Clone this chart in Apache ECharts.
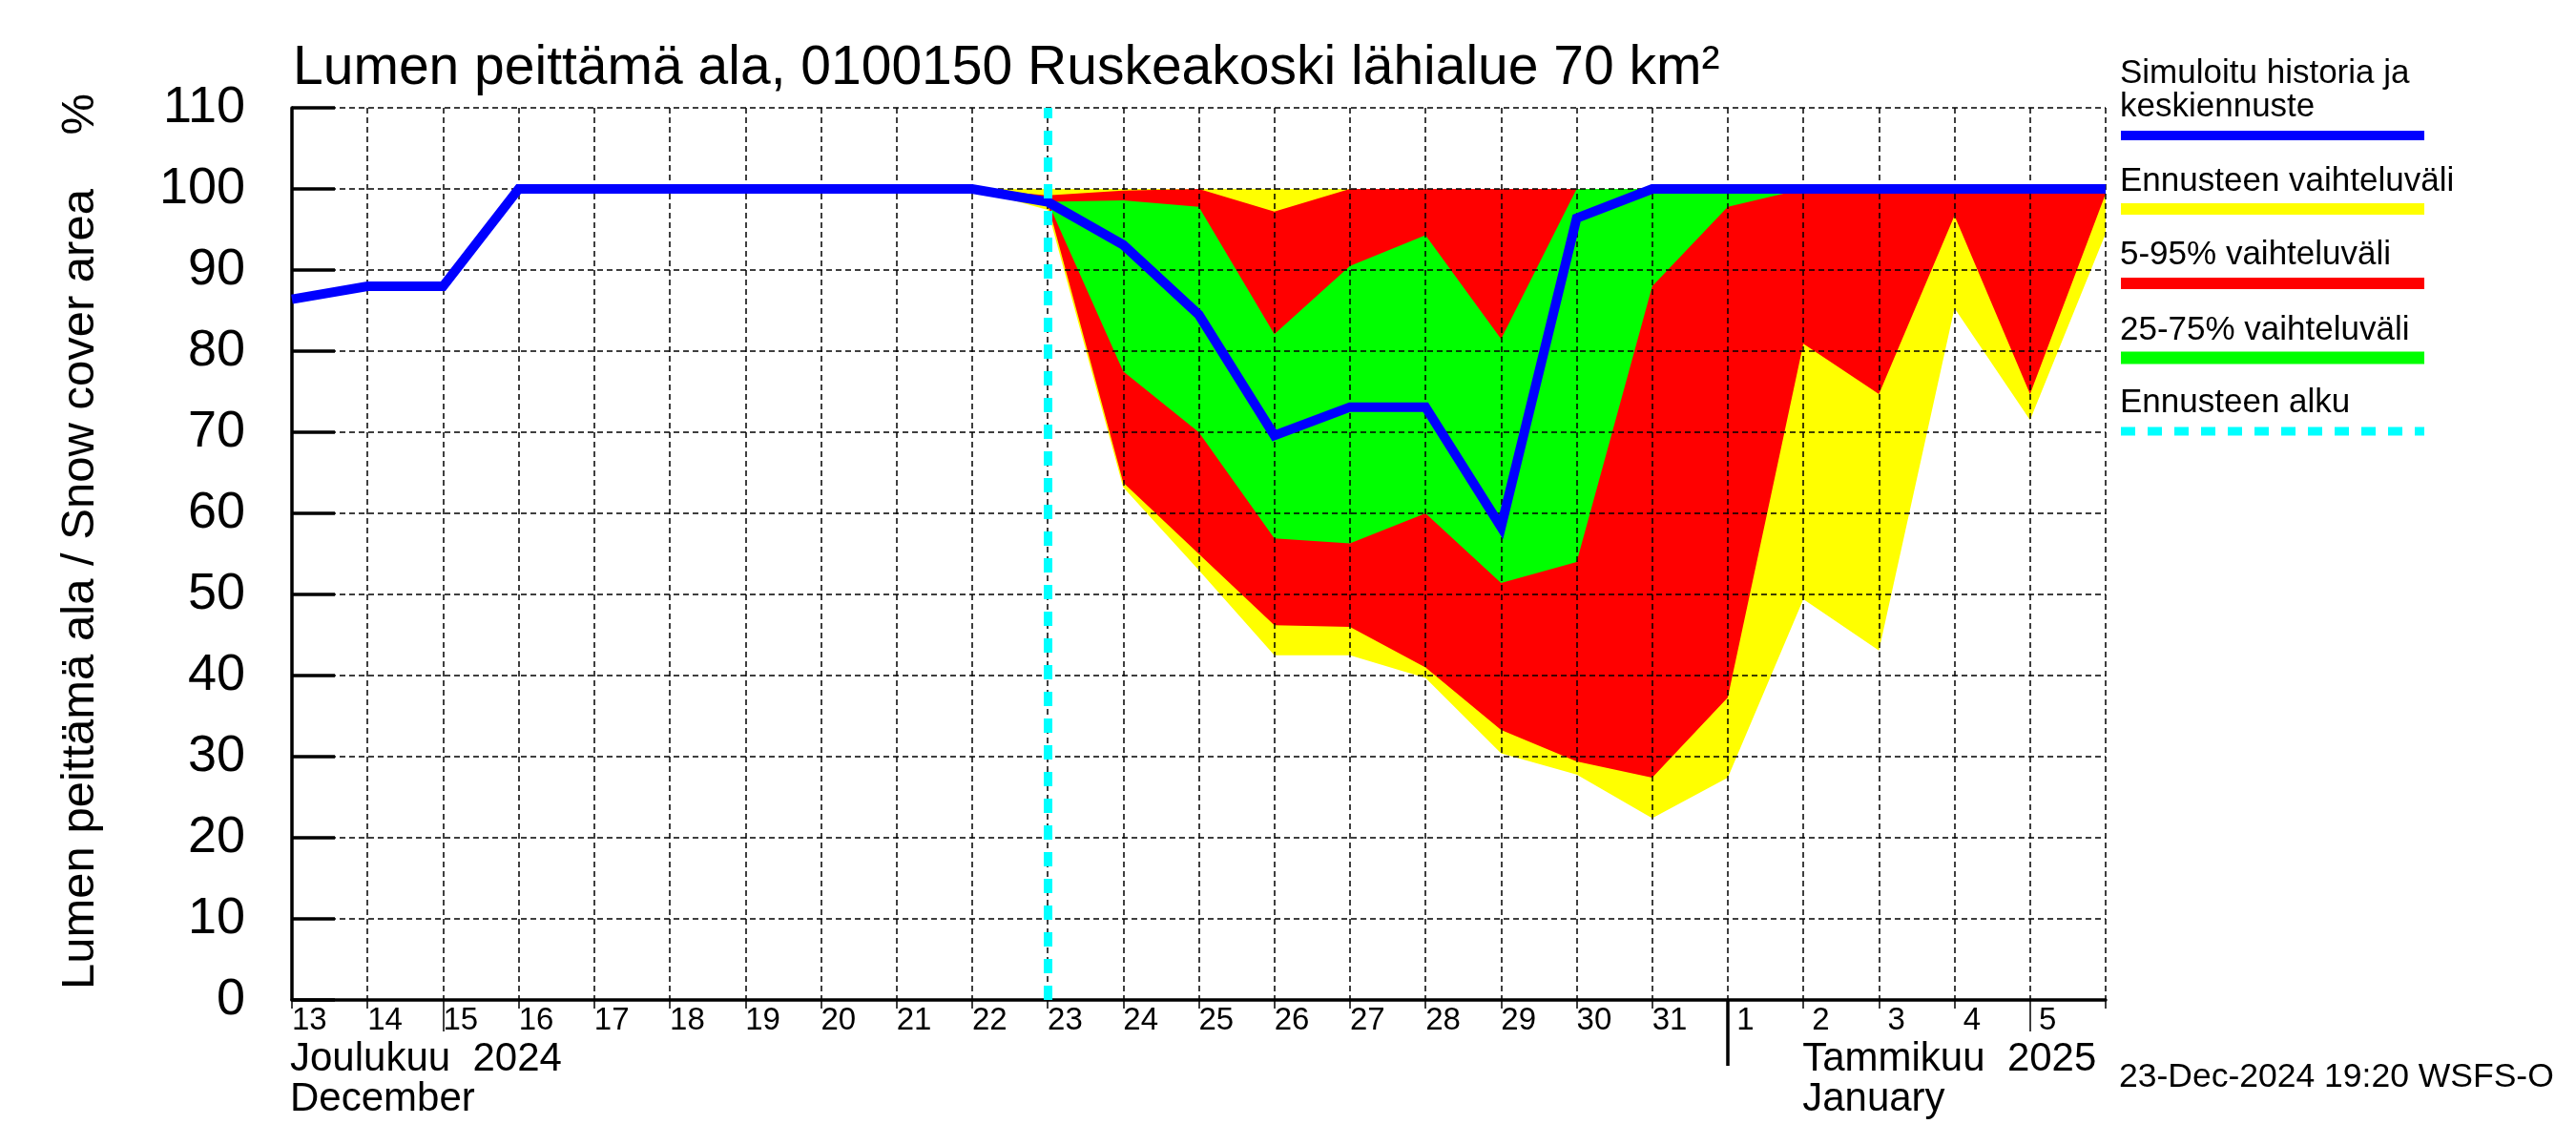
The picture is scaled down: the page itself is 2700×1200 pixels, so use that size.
<!DOCTYPE html>
<html>
<head>
<meta charset="utf-8">
<script src="https://cdn.jsdelivr.net/npm/echarts@6/dist/echarts.min.js"></script>
<style>
html,body{margin:0;padding:0;background:#ffffff;}
#chart{width:2700px;height:1200px;}
</style>
</head>
<body>
<div id="chart"></div>
<script>
// ---- Data ----
// Day boundaries from 13 Dec 2024 to 6 Jan 2025
const days = ['13','14','15','16','17','18','19','20','21','22','23','24','25','26','27','28','29','30','31','1','2','3','4','5','6'];
const sundayIdx = [2, 23];          // longer ticks (15 Dec, 5 Jan)
const monthStartIdx = 19;           // 1 Jan
const forecastStartIdx = 10;        // 23 Dec

// Simulated history and median forecast (%)
const simulated = [86.4, 88, 88, 100, 100, 100, 100, 100, 100, 100, 98.4, 93.1, 84.5, 69.6, 73.1, 73.1, 58.3, 96.4, 100, 100, 100, 100, 100, 100, 100];

// Forecast bands, starting from 22 Dec (index 9)
const bandStart = 9;
const rangeMax = [100, 100, 100, 100, 100, 100, 100, 100, 100, 100, 100, 100, 100, 100, 100, 100];
const rangeMin = [100, 97.4, 63.2, 53, 42.5, 42.5, 39.7, 30.4, 27.8, 22.4, 27.4, 49.4, 43.1, 85.3, 71.5, 94.5];
const p95 = [100, 99.2, 99.8, 100, 97.2, 100, 100, 100, 100, 100, 100, 100, 100, 100, 100, 100];
const p5  = [100, 98.2, 63.8, 55, 46.2, 46, 41, 33.3, 29.4, 27.4, 37.3, 80.9, 74.7, 96.7, 74.7, 99.4];
const p75 = [100, 98.4, 98.6, 97.8, 82.1, 90.5, 94.3, 81.5, 100, 100, 100, 100, 100, 100, 100, 100];
const p25 = [100, 98.4, 77.5, 70, 56.9, 56.3, 60, 51.4, 54, 88, 97.8, 100, 100, 100, 100, 100];

const yTicks = {min: 0, max: 110, interval: 10};

// ---- Helpers ----
function full(arr) {
  const out = new Array(days.length).fill(null);
  arr.forEach((v, i) => { out[bandStart + i] = v; });
  return out;
}
function bandSeries(id, lo, hi, color) {
  const l = full(lo), h = full(hi);
  return [
    {type: 'line', name: id + '_lo', stack: id, stackStrategy: 'all', data: l, symbol: 'none',
     lineStyle: {width: 0, opacity: 0}, silent: true, z: 2},
    {type: 'line', name: id + '_hi', stack: id, stackStrategy: 'all',
     data: h.map((v, i) => v == null ? null : v - l[i]), symbol: 'none',
     lineStyle: {width: 0, opacity: 0}, areaStyle: {color: color, opacity: 1}, silent: true, z: 2}
  ];
}

const FONT = '"Liberation Sans", Arial, Helvetica, sans-serif';
const gridLine = {show: true, lineStyle: {color: '#000', width: 1.5, type: [6, 4]}};

const chart = echarts.init(document.getElementById('chart'), null, {renderer: 'canvas'});

const option = {
  animation: false,
  backgroundColor: '#ffffff',
  textStyle: {fontFamily: FONT, color: '#000'},
  title: {
    text: 'Lumen peittämä ala, 0100150 Ruskeakoski lähialue 70 km²',
    left: 307, top: 44, padding: 0,
    textStyle: {fontFamily: FONT, fontSize: 57, fontWeight: 'normal', color: '#000'}
  },
  grid: {left: 306, right: 493, top: 113, bottom: 152, containLabel: false, outerBoundsMode: 'none'},
  xAxis: [
    {
      type: 'category', data: days, boundaryGap: false, position: 'bottom', z: 3,
      axisLine: {show: true, onZero: false, lineStyle: {color: '#000', width: 3.5}},
      axisTick: {show: true, interval: 0, length: 9, lineStyle: {color: '#000', width: 1.5}},
      axisLabel: {
        interval: 0, align: 'left', margin: 5, fontSize: 33, color: '#000', fontFamily: FONT,
        formatter: function (v, i) { if (i === days.length - 1) return ''; return v.length === 1 ? ' ' + v : v; }
      },
      splitLine: Object.assign({interval: 0}, gridLine)
    },
    {
      type: 'category', data: days, boundaryGap: false, position: 'bottom', z: 3,
      axisLine: {show: false, onZero: false},
      axisLabel: {show: false}, splitLine: {show: false},
      axisTick: {show: true, length: 33, interval: function (i) { return sundayIdx.indexOf(i) >= 0; },
                 lineStyle: {color: '#000', width: 1.5}}
    },
    {
      type: 'category', data: days, boundaryGap: false, position: 'bottom', z: 3,
      axisLine: {show: false, onZero: false},
      axisLabel: {show: false}, splitLine: {show: false},
      axisTick: {show: true, length: 69, interval: function (i) { return i === monthStartIdx; },
                 lineStyle: {color: '#000', width: 3.5}}
    }
  ],
  yAxis: {
    type: 'value', min: yTicks.min, max: yTicks.max, interval: yTicks.interval, z: 3,
    axisLine: {show: true, lineStyle: {color: '#000', width: 3.5}},
    axisTick: {show: true, inside: true, length: 45, lineStyle: {color: '#000', width: 3.5}},
    axisLabel: {fontSize: 54, margin: 49, color: '#000', fontFamily: FONT},
    splitLine: gridLine
  },
  series: [].concat(
    bandSeries('minmax', rangeMin, rangeMax, '#ffff00'),
    bandSeries('p5_95', p5, p95, '#ff0000'),
    bandSeries('p25_75', p25, p75, '#00ff00'),
    [{
      type: 'line', name: 'simulated', data: simulated, symbol: 'none', z: 4, silent: true,
      lineStyle: {color: '#0000ff', width: 10, join: 'miter'},
      markLine: {
        silent: true, symbol: ['none', 'none'], animation: false, z: 5,
        label: {show: false},
        lineStyle: {color: '#00ffff', width: 9, type: [15, 13], opacity: 1},
        emphasis: {disabled: true},
        data: [{xAxis: forecastStartIdx}]
      }
    }]
  )
};
chart.setOption(option);

// ---- Text annotations and legend ----
const x0 = chart.convertToPixel({xAxisIndex: 0}, 0);
const xJan2 = chart.convertToPixel({xAxisIndex: 0}, 20);
const LX = 2222, LX2 = 2541;
function txt(x, y, text, size, extra) {
  return Object.assign({
    type: 'text', x: x, y: y, silent: true,
    style: {text: text, fontSize: size, fontFamily: FONT, fill: '#000',
            textAlign: 'left', textVerticalAlign: 'top', align: 'left', verticalAlign: 'top', lineHeight: size}
  }, extra || {});
}
function bar(y, color, w, dash) {
  return {type: 'line', silent: true, shape: {x1: LX + 1, y1: y, x2: LX2, y2: y},
          style: {stroke: color, lineWidth: w, lineDash: dash || null}};
}
chart.setOption({
  graphic: [
    {type: 'text', x: 84, y: 1037, rotation: Math.PI / 2, silent: true,
     style: {text: 'Lumen peittämä ala / Snow cover area', fontSize: 49, fontFamily: FONT, fill: '#000',
             textAlign: 'left', textVerticalAlign: 'middle', align: 'left', verticalAlign: 'middle'}},
    {type: 'text', x: 84, y: 98, rotation: Math.PI / 2, silent: true,
     style: {text: '%', fontSize: 49, fontFamily: FONT, fill: '#000',
             textAlign: 'right', textVerticalAlign: 'middle', align: 'right', verticalAlign: 'middle'}},
    txt(x0 - 2, 1089, 'Joulukuu  2024\nDecember', 42),
    txt(xJan2 - 1, 1089, 'Tammikuu  2025\nJanuary', 42),
    txt(2221, 1111, '23-Dec-2024 19:20 WSFS-O', 35.5),
    txt(LX, 60, 'Simuloitu historia ja\nkeskiennuste', 35),
    bar(142, '#0000ff', 10),
    txt(LX, 173, 'Ennusteen vaihteluväli', 35),
    bar(219, '#ffff00', 12),
    txt(LX, 250, '5-95% vaihteluväli', 35),
    bar(297, '#ff0000', 12),
    txt(LX, 329, '25-75% vaihteluväli', 35),
    bar(375, '#00ff00', 13),
    txt(LX, 405, 'Ennusteen alku', 35),
    bar(452, '#00ffff', 9, [15, 13])
  ]
});
</script>
</body>
</html>
